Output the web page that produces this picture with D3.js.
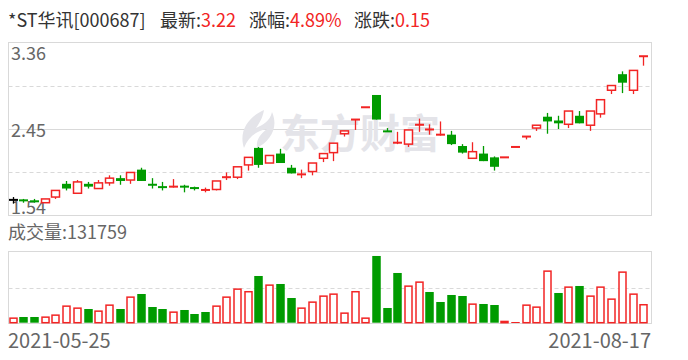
<!DOCTYPE html>
<html>
<head>
<meta charset="utf-8">
<script src="https://cdn.jsdelivr.net/npm/d3@7"></script>
<style>
    body { margin: 0; background: #fff; }
    text { font-family: "Microsoft YaHei", "Noto Sans CJK SC", sans-serif; }
</style>
</head>
<body>
<svg id="chart" width="688" height="360"></svg>
<script>
(function() {
    'use strict';

    /******************************************************************
        data (daily, 2021-05-25 .. 2021-08-17)
     ******************************************************************/
    var stockName = '*ST华讯',
        stockCode = '000687';

    var dates = [
        '2021-05-25','2021-05-26','2021-05-27','2021-05-28','2021-05-31',
        '2021-06-01','2021-06-02','2021-06-03','2021-06-04','2021-06-07',
        '2021-06-08','2021-06-09','2021-06-10','2021-06-11','2021-06-15',
        '2021-06-16','2021-06-17','2021-06-18','2021-06-21','2021-06-22',
        '2021-06-23','2021-06-24','2021-06-25','2021-06-28','2021-06-29',
        '2021-06-30','2021-07-01','2021-07-02','2021-07-05','2021-07-06',
        '2021-07-07','2021-07-08','2021-07-09','2021-07-12','2021-07-13',
        '2021-07-14','2021-07-15','2021-07-16','2021-07-19','2021-07-20',
        '2021-07-21','2021-07-22','2021-07-23','2021-07-26','2021-07-27',
        '2021-07-28','2021-07-29','2021-07-30','2021-08-02','2021-08-03',
        '2021-08-04','2021-08-05','2021-08-06','2021-08-09','2021-08-10',
        '2021-08-11','2021-08-12','2021-08-13','2021-08-16','2021-08-17'
    ];

    var open = [
        1.70,1.70,1.69,1.67,1.73, 1.87,1.77,1.87,1.82,1.88,
        1.93,1.91,2.02,1.87,1.84, 1.83,1.85,1.83,1.80,1.81,
        1.94,1.94,2.07,2.25,2.09, 2.19,2.04,1.96,2.00,2.14,
        2.20,2.40,2.55,2.68,2.81, 2.43,2.30,2.29,2.49,2.44,
        2.38,2.39,2.27,2.14,2.19, 2.15,2.15,2.26,2.37,2.46,
        2.58,2.54,2.50,2.59,2.49, 2.61,2.86,3.03,2.86,3.22
    ];
    var high = [
        1.73,1.71,1.71,1.71,1.80, 1.90,1.91,1.89,1.91,1.96,
        1.96,1.99,2.04,1.93,1.89, 1.92,1.86,1.84,1.83,1.90,
        1.99,2.05,2.15,2.26,2.17, 2.24,2.07,2.02,2.09,2.19,
        2.30,2.43,2.55,2.68,2.81, 2.46,2.42,2.44,2.56,2.50,
        2.53,2.43,2.29,2.31,2.27, 2.16,2.15,2.26,2.37,2.49,
        2.62,2.59,2.64,2.64,2.64, 2.76,2.91,3.06,3.07,3.22
    ];
    var low = [
        1.66,1.67,1.67,1.67,1.71, 1.80,1.77,1.82,1.82,1.85,
        1.86,1.87,1.90,1.82,1.80, 1.83,1.78,1.80,1.78,1.80,
        1.91,1.92,2.01,2.04,2.09, 2.09,1.98,1.93,1.96,2.10,
        2.11,2.37,2.44,2.68,2.55, 2.42,2.29,2.26,2.42,2.39,
        2.38,2.28,2.19,2.14,2.11, 2.01,2.15,2.26,2.34,2.43,
        2.40,2.45,2.46,2.51,2.43, 2.57,2.82,2.83,2.82,3.12
    ];
    var close = [
        1.70,1.69,1.68,1.71,1.80, 1.82,1.89,1.84,1.88,1.93,
        1.90,1.99,1.90,1.85,1.83, 1.85,1.83,1.82,1.81,1.90,
        1.94,2.05,2.15,2.07,2.17, 2.09,1.98,1.98,2.09,2.19,
        2.30,2.43,2.55,2.68,2.55, 2.42,2.31,2.44,2.50,2.45,
        2.40,2.29,2.20,2.21,2.11, 2.05,2.15,2.26,2.37,2.49,
        2.53,2.51,2.64,2.51,2.64, 2.76,2.91,2.94,3.07,3.22
    ];
    var volume = [
        37300,40200,40200,44400,58500, 121900,107800,96500,86700,128900,
        96500,185300,202200,110600,96500, 79600,89500,61300,75400,121900,
        185300,241700,223400,329000,269900, 272700,174000,107800,150100,192400,
        206400,72600,223400,37300,470000, 103600,350200,262800,291000,216300,
        145900,195200,188100,136000,131800, 124700,14100,4900,128900,114900,
        368500,209300,255800,258600,192400, 255800,171200,361500,206400,131759
    ];

    var priceTicks = [3.36, 2.45, 1.54],
        dateTicks = ['2021-05-25', '2021-08-17'];

    /******************************************************************
        layout
     ******************************************************************/
    var RED = '#f22424', GREEN = '#009b00', GRID = '#d9d9d9', LABEL = '#666';
    var left = 8.5, right = 651.5,
        kTop = 42.5, kBottom = 215.5,
        vTop = 251.5, vBottom = 323.5;

    var svg = d3.select('#chart');
    var n = dates.length;

    var x = d3.scaleBand()
        .domain(d3.range(n))
        .range([8.7, 647.2])
        .paddingInner(0.25);

    var y = d3.scaleLinear()
        .domain([priceTicks[2], priceTicks[0]])
        .range([215, 43]);

    var yv = d3.scaleLinear()
        .domain([0, d3.max(volume) * 1.07])
        .range([322.7, 251.3]);

    function cx(i) { return Math.round(x(i) + x.bandwidth() / 2) + 0.5; }

    function candleColor(i) {
        if (close[i] > open[i]) return RED;
        if (close[i] < open[i]) return GREEN;
        if (i === 0) return '#000';
        return close[i] >= close[i - 1] ? RED : GREEN;
    }
    function volColor(i) {
        return (i === 0 || close[i] >= close[i - 1]) ? RED : GREEN;
    }

    /******************************************************************
        header
     ******************************************************************/
    var last = close[n - 1], prev = close[n - 2];
    var header = [
        { x: 8,   label: stockName + '[' + stockCode + ']', value: '' },
        { x: 160, label: '最新:', value: d3.format('.2f')(last) },
        { x: 249, label: '涨幅:', value: d3.format('.2f')((last - prev) / prev * 100) + '%' },
        { x: 354, label: '涨跌:', value: d3.format('.2f')(last - prev) }
    ];
    var head = svg.selectAll('text.head')
        .data(header)
        .enter().append('text')
            .attr('class', 'head')
            .attr('x', function(d) { return d.x; })
            .attr('y', 27)
            .attr('font-size', 18);
    head.append('tspan')
        .attr('fill', '#333')
        .text(function(d) { return d.label; });
    head.append('tspan')
        .attr('fill', RED)
        .text(function(d) { return d.value; });

    /******************************************************************
        frames + grid
     ******************************************************************/
    svg.append('rect')
        .attr('x', left).attr('y', kTop)
        .attr('width', right - left).attr('height', kBottom - kTop)
        .attr('fill', 'none').attr('stroke', GRID);

    svg.append('rect')
        .attr('x', left).attr('y', vTop)
        .attr('width', right - left).attr('height', vBottom - vTop)
        .attr('fill', 'none').attr('stroke', GRID);

    // dashed quarter lines + solid middle line
    var mid = (priceTicks[0] + priceTicks[2]) / 2;
    [(priceTicks[0] + mid) / 2, (priceTicks[2] + mid) / 2].forEach(function(p) {
        svg.append('line')
            .attr('x1', left).attr('x2', right)
            .attr('y1', Math.round(y(p)) + 0.5).attr('y2', Math.round(y(p)) + 0.5)
            .attr('stroke', GRID).attr('stroke-dasharray', '4,3');
    });
    svg.append('line')
        .attr('x1', left).attr('x2', right)
        .attr('y1', Math.round(y(priceTicks[1])) + 0.5)
        .attr('y2', Math.round(y(priceTicks[1])) + 0.5)
        .attr('stroke', GRID);

    var vm = Math.round((vTop + vBottom) / 2) + 0.5;
    svg.append('line')
        .attr('x1', left).attr('x2', right)
        .attr('y1', vm).attr('y2', vm)
        .attr('stroke', GRID).attr('stroke-dasharray', '4,3');

    /******************************************************************
        watermark
     ******************************************************************/
    var wm = svg.append('g').attr('fill', '#e4e4e9');
    wm.append('path')
        .attr('d', 'M264 110 C250 116 238 130 244 148 C248 137 256 131 267 129 ' +
                   'C259 135 256 141 257 148 C270 141 279 128 272 112 ' +
                   'C270 121 263 125 256 128 C261 121 263 116 264 110 Z');
    wm.append('text')
        .attr('x', 280).attr('y', 148)
        .attr('font-size', 40).attr('font-weight', 'bold')
        .text('东方财富');

    /******************************************************************
        price labels
     ******************************************************************/
    svg.selectAll('text.ptick')
        .data(priceTicks)
        .enter().append('text')
            .attr('class', 'ptick')
            .attr('x', 11)
            .attr('y', function(d, i) { return [60, 137, 214][i]; })
            .attr('font-size', 18)
            .attr('fill', LABEL)
            .text(function(d) { return d3.format('.2f')(d); });

    /******************************************************************
        candles
     ******************************************************************/
    var bw = 8;
    var k = svg.append('g').attr('class', 'candles')
        .selectAll('g')
        .data(d3.range(n))
        .enter().append('g');

    k.append('line')
        .attr('x1', cx).attr('x2', cx)
        .attr('y1', function(i) { return y(high[i]); })
        .attr('y2', function(i) { return y(low[i]); })
        .attr('stroke', candleColor)
        .attr('stroke-width', 1.3);

    k.append('rect')
        .each(function(i) {
            var top = y(Math.max(open[i], close[i])),
                bot = y(Math.min(open[i], close[i])),
                c = candleColor(i),
                r = d3.select(this);
            if (bot - top < 2) {
                r.attr('x', cx(i) - bw / 2 - 0.5).attr('width', bw + 1)
                 .attr('y', (top + bot) / 2 - 1).attr('height', 2)
                 .attr('fill', c);
            } else if (c === RED) {
                r.attr('x', cx(i) - bw / 2).attr('width', bw)
                 .attr('y', top).attr('height', bot - top)
                 .attr('fill', '#fff').attr('stroke', c).attr('stroke-width', 1.5);
            } else {
                r.attr('x', cx(i) - bw / 2 - 0.5).attr('width', bw + 1)
                 .attr('y', top).attr('height', bot - top)
                 .attr('fill', c);
            }
        });

    /******************************************************************
        volume
     ******************************************************************/
    svg.append('text')
        .attr('x', 8).attr('y', 239)
        .attr('font-size', 18)
        .attr('fill', LABEL)
        .text('成交量:' + volume[n - 1]);

    svg.append('g').attr('class', 'volume')
        .selectAll('rect')
        .data(d3.range(n))
        .enter().append('rect')
            .each(function(i) {
                var c = volColor(i),
                    top = yv(volume[i]),
                    h = yv(0) - top,
                    r = d3.select(this);
                if (c === RED && h > 2) {
                    r.attr('x', cx(i) - 3.5).attr('width', 7)
                     .attr('y', top + 0.75).attr('height', h - 0.75)
                     .attr('fill', '#fff').attr('stroke', c).attr('stroke-width', 1.5);
                } else {
                    r.attr('x', cx(i) - 4.25).attr('width', 8.5)
                     .attr('y', top).attr('height', Math.max(h, 1))
                     .attr('fill', c);
                }
            });

    /******************************************************************
        date labels
     ******************************************************************/
    svg.selectAll('text.dtick')
        .data(dateTicks)
        .enter().append('text')
            .attr('class', 'dtick')
            .attr('x', function(d, i) { return i ? 651 : 8; })
            .attr('y', 348)
            .attr('text-anchor', function(d, i) { return i ? 'end' : 'start'; })
            .attr('font-size', 20)
            .attr('fill', LABEL)
            .text(function(d) { return d; });
})();
</script>
</body>
</html>
